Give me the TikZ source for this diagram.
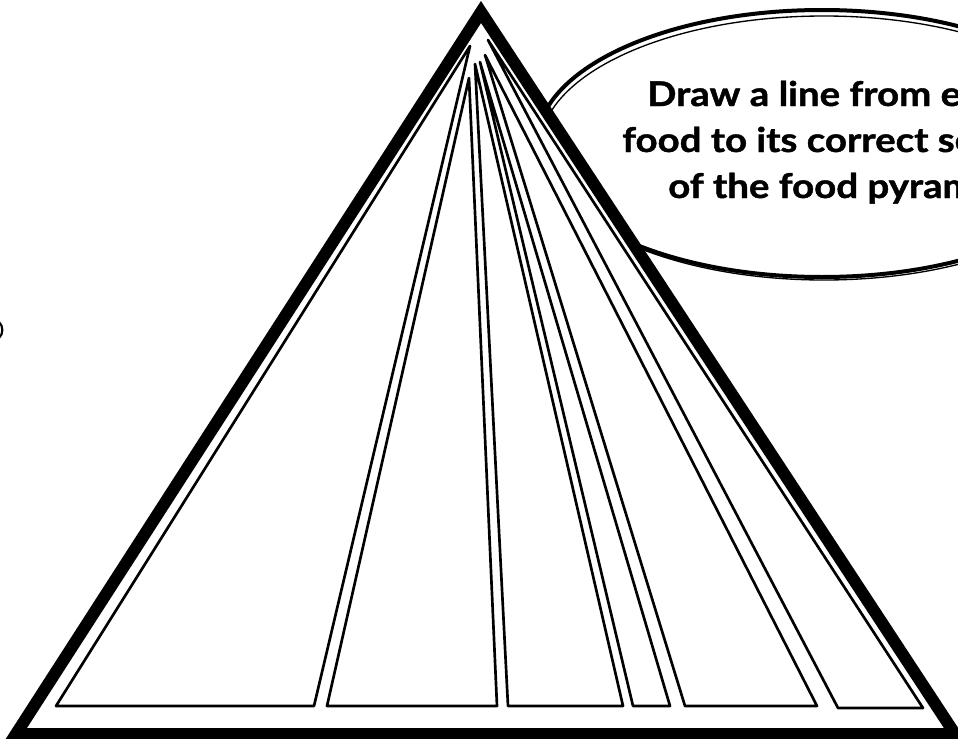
\documentclass[tikz,border=0pt]{standalone}
\usepackage{fontspec}
\newfontfamily\bubblefont{Lato}[BoldFeatures={FakeBold=1.2}]
\begin{document}
\begin{tikzpicture}[x=0.75pt,y=-0.75pt]
\tikzset{
  pyramid/.style={draw=black, line width=9pt, fill=white, line join=miter},
  band/.style={draw=black, line width=2pt, line join=round},
  bubbleout/.style={draw=black, line width=3pt},
  bubblein/.style={draw=black, line width=1pt},
  msg/.style={anchor=base west, inner sep=0pt, text=black,
    font=\bubblefont\bfseries\fontsize{25.5}{30}\selectfont}
}
\useasboundingbox (0,0) rectangle (958,739);
\fill[white] (0,0) rectangle (958,739);
\clip (0,0) rectangle (958,739);
% speech bubble (behind the pyramid)
\draw[bubbleout] (822,143.5) ellipse [x radius=285, y radius=133.5];
\draw[bubblein] (824,148) ellipse [x radius=284, y radius=132];
\node[msg] (l1) at (647,106) {\scalebox{1.13}[1]{Draw a line from e}};
\node[msg] (l2) at (622,152) {\scalebox{1.13}[1]{food to its correct se}};
\node[msg] (l3) at (668,198) {\scalebox{1.13}[1]{of the food pyram}};
% small mark at the left edge
\draw[line width=1.6pt] (-1,322) .. controls (3.5,326) and (3.5,334) .. (-1,338);
% pyramid
\draw[pyramid] (481,12) -- (16,734) -- (955,734) -- cycle;
\draw[band] (470,46) -- (56,706) -- (314,706) -- cycle;
\draw[band] (469,78) -- (327,706) -- (497,706) -- cycle;
\draw[band] (475,64) -- (508,706) -- (623,706) -- cycle;
\draw[band] (480,62) -- (633,706) -- (670,706) -- cycle;
\draw[band] (485,55) -- (685,706) -- (817,706) -- cycle;
\draw[band] (488,40) -- (838,708) -- (923,708) -- cycle;
\end{tikzpicture}
\end{document}
